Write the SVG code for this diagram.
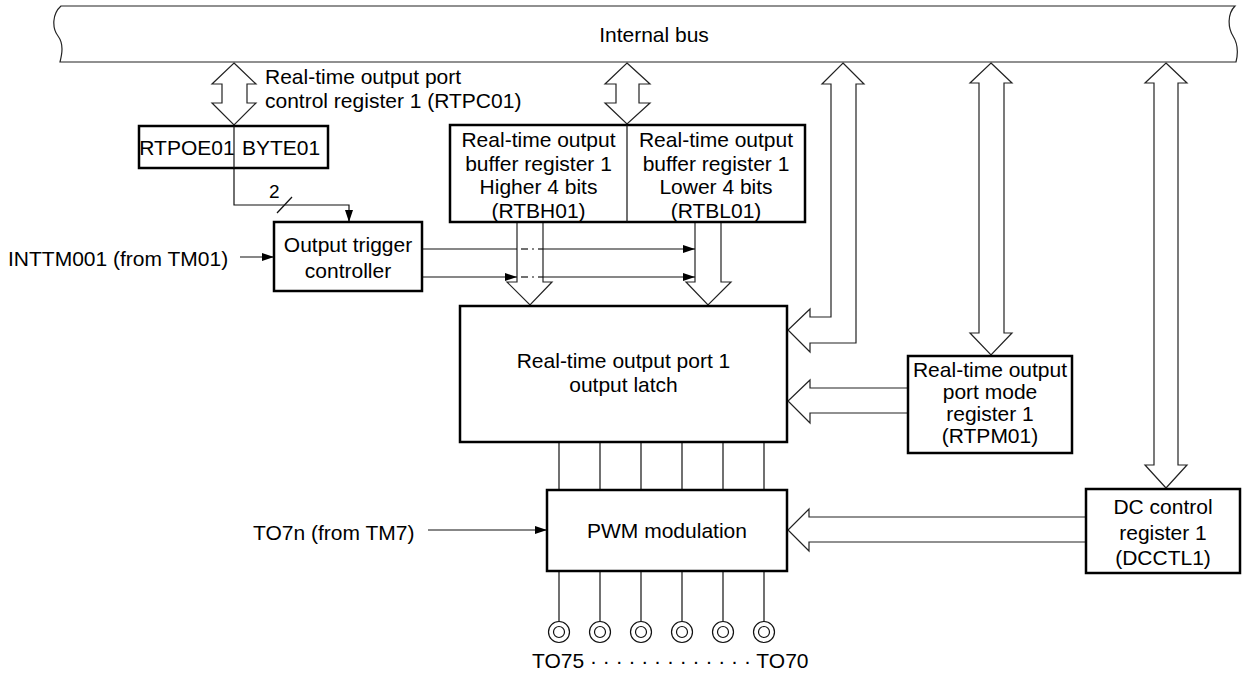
<svg xmlns="http://www.w3.org/2000/svg" width="1243" height="677" viewBox="0 0 1243 677">
<defs>
<marker id="ah" viewBox="0 0 12 8" refX="12" refY="4" markerWidth="12" markerHeight="8" markerUnits="userSpaceOnUse" orient="auto">
<path d="M0,0 L12,4 L0,8 Z" fill="#000"/>
</marker>
</defs>
<style>
text{font-family:"Liberation Sans",Arial,sans-serif;font-size:21px;fill:#000}
.c{text-anchor:middle}
.box{fill:#fff;stroke:#000;stroke-width:2.5}
.thin{fill:none;stroke:#222;stroke-width:1.2}
.fat{fill:#fff;stroke:#222;stroke-width:1.2;stroke-linejoin:miter}
.ln{fill:none;stroke:#111;stroke-width:1.2}
</style>
<rect width="1243" height="677" fill="#fff"/>

<g id="bus">
<path class="thin" d="M61,6 L1235,6 C1227,14 1228,28 1233,36 C1238,44 1238,54 1236,62 L60,62 C62,54 64,44 58,36 C52,28 52,14 61,6 Z" fill="#fff"/>
<text class="c" x="654" y="42">Internal bus</text>
</g>

<g id="connectors">
<polygon class="fat" points="234,63 256,84 247,84 247,103 256,103 234,125 212,103 222,103 222,84 212,84"/>
<polygon class="fat" points="627,63 650,84 639,84 639,103 650,103 627,124 605,103 616,103 616,84 605,84"/>
<polygon class="fat" points="843,63 864,84 856,84 856,343 810,343 810,352 788,330 810,309 810,317 831,317 831,84 822,84"/>
<polygon class="fat" points="991,63 1012,83 1004,83 1004,333 1012,333 991,355 970,333 979,333 979,83 970,83"/>
<polygon class="fat" points="1166,63 1187,83 1178,83 1178,465 1187,465 1166,488 1145,465 1154,465 1154,83 1145,83"/>
<polyline class="fat" points="908,388 810,388 810,380 788,401 810,423 810,413 908,413"/>
<polyline class="fat" points="1086,517 809,517 809,509 788,530 809,551 809,542 1086,542"/>
<polyline class="fat" points="517,222 517,282 507,282 530,305 552,282 543,282 543,222"/>
<polyline class="fat" points="695,222 695,282 686,282 708,305 731,282 721,282 721,222"/>

<polyline class="ln" points="234,168 234,205 349,205 349,222" marker-end="url(#ah)"/>
<line class="ln" x1="277" y1="213" x2="292" y2="197"/>
<text x="269" y="198" style="font-size:19px">2</text>

<line class="ln" x1="240" y1="257" x2="274" y2="257" marker-end="url(#ah)"/>
<line class="ln" x1="428" y1="530" x2="547" y2="530" marker-end="url(#ah)"/>

<line class="ln" x1="422" y1="249" x2="517" y2="249"/>
<line class="ln" x1="521" y1="249" x2="528" y2="249"/>
<line class="ln" x1="532" y1="249" x2="534" y2="249"/>
<line class="ln" x1="538" y1="249" x2="543" y2="249"/>
<line class="ln" x1="543" y1="249" x2="695" y2="249" marker-end="url(#ah)"/>
<line class="ln" x1="422" y1="277" x2="517" y2="277" marker-end="url(#ah)"/>
<line class="ln" x1="521" y1="277" x2="528" y2="277"/>
<line class="ln" x1="532" y1="277" x2="534" y2="277"/>
<line class="ln" x1="538" y1="277" x2="543" y2="277"/>
<line class="ln" x1="543" y1="277" x2="695" y2="277" marker-end="url(#ah)"/>

<g class="ln">
<line x1="559" y1="442" x2="559" y2="490"/>
<line x1="600" y1="442" x2="600" y2="490"/>
<line x1="641" y1="442" x2="641" y2="490"/>
<line x1="682" y1="442" x2="682" y2="490"/>
<line x1="723" y1="442" x2="723" y2="490"/>
<line x1="764" y1="442" x2="764" y2="490"/>
<line x1="559" y1="571" x2="559" y2="621.5"/>
<line x1="600" y1="571" x2="600" y2="621.5"/>
<line x1="641" y1="571" x2="641" y2="621.5"/>
<line x1="682" y1="571" x2="682" y2="621.5"/>
<line x1="723" y1="571" x2="723" y2="621.5"/>
<line x1="764" y1="571" x2="764" y2="621.5"/>
</g>
</g>

<g id="rtpc01-label">
<text x="265" y="84">Real-time output port</text>
<text x="265" y="108">control register 1 (RTPC01)</text>
</g>

<g id="rtpc01">
<rect class="box" x="139" y="126" width="189" height="42"/>
<line class="ln" x1="234" y1="126" x2="234" y2="168"/>
<text class="c" x="187" y="155">RTPOE01</text>
<text class="c" x="281" y="155">BYTE01</text>
</g>

<g id="rtb">
<rect class="box" x="450" y="125" width="355" height="97"/>
<line class="ln" x1="627" y1="125" x2="627" y2="222"/>
<text class="c" x="538.5" y="147">Real-time output</text>
<text class="c" x="538.5" y="170.5">buffer register 1</text>
<text class="c" x="538.5" y="194">Higher 4 bits</text>
<text class="c" x="538.5" y="217.5">(RTBH01)</text>
<text class="c" x="716" y="147">Real-time output</text>
<text class="c" x="716" y="170.5">buffer register 1</text>
<text class="c" x="716" y="194">Lower 4 bits</text>
<text class="c" x="716" y="217.5">(RTBL01)</text>
</g>

<g id="otc">
<rect class="box" x="274" y="222" width="148" height="69"/>
<text class="c" x="348" y="252">Output trigger</text>
<text class="c" x="348" y="278">controller</text>
</g>

<g id="inttm">
<text x="8" y="266">INTTM001 (from TM01)</text>
</g>

<g id="latch">
<rect class="box" x="460" y="306" width="327" height="136"/>
<text class="c" x="623.5" y="368">Real-time output port 1</text>
<text class="c" x="623.5" y="392">output latch</text>
</g>

<g id="rtpm">
<rect class="box" x="908" y="356" width="164" height="97"/>
<text class="c" x="990" y="377">Real-time output</text>
<text class="c" x="990" y="399">port mode</text>
<text class="c" x="990" y="421">register 1</text>
<text class="c" x="990" y="443">(RTPM01)</text>
</g>

<g id="pwm">
<rect class="box" x="547" y="490" width="240" height="81"/>
<text class="c" x="667" y="538">PWM modulation</text>
</g>

<g id="to7n">
<text x="253" y="540">TO7n (from TM7)</text>
</g>

<g id="dcctl">
<rect class="box" x="1086" y="489" width="154" height="84"/>
<text class="c" x="1163" y="514">DC control</text>
<text class="c" x="1163" y="539.5">register 1</text>
<text class="c" x="1163" y="565">(DCCTL1)</text>
</g>

<g id="pins" fill="none" stroke="#111" stroke-width="1.2">
<circle cx="559" cy="632" r="10.5"/><circle cx="559" cy="632" r="5.5"/>
<circle cx="600" cy="632" r="10.5"/><circle cx="600" cy="632" r="5.5"/>
<circle cx="641" cy="632" r="10.5"/><circle cx="641" cy="632" r="5.5"/>
<circle cx="682" cy="632" r="10.5"/><circle cx="682" cy="632" r="5.5"/>
<circle cx="723" cy="632" r="10.5"/><circle cx="723" cy="632" r="5.5"/>
<circle cx="764" cy="632" r="10.5"/><circle cx="764" cy="632" r="5.5"/>
</g>
<g id="pin-label">
<text x="532" y="668">TO75 · · · · · · · · · · · · · TO70</text>
</g>
</svg>
